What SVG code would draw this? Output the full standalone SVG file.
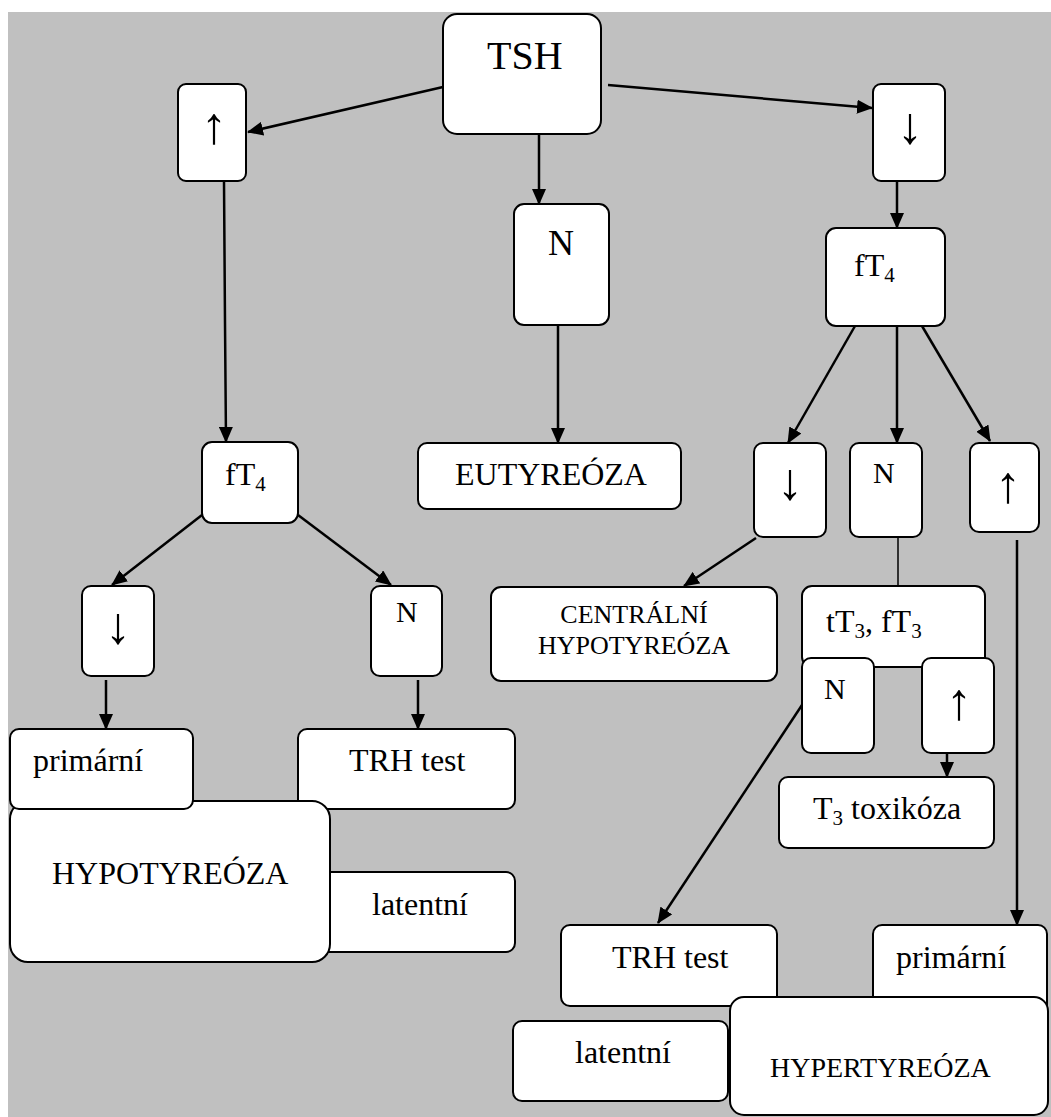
<svg xmlns="http://www.w3.org/2000/svg" width="1051" height="1117" viewBox="0 0 1051 1117">
<style>
.box{fill:#fff;stroke:#000;stroke-width:2}
.t{font-family:'Liberation Serif','DejaVu Serif',serif;font-size:32px;fill:#000}
.c{fill:none;stroke:#000;stroke-width:2.5}
.a{font-family:'Liberation Serif','DejaVu Serif',serif;font-size:52px;fill:#000;text-anchor:middle}
</style>
<defs>
<marker id="ah" markerUnits="userSpaceOnUse" markerWidth="16" markerHeight="14" refX="15" refY="7" orient="auto">
<path d="M0,0 L16,7 L0,14 Z" fill="#000"/>
</marker>
</defs>
<rect x="0" y="0" width="1051" height="1117" fill="#fff"/>
<rect x="8" y="12" width="1043" height="1105" fill="#c0c0c0"/>

<g id="connectors">
<line class="c" x1="443" y1="87" x2="248" y2="132" marker-end="url(#ah)"/>
<line class="c" x1="608" y1="85" x2="872" y2="108" marker-end="url(#ah)"/>
<line class="c" x1="539" y1="134" x2="539" y2="204" marker-end="url(#ah)"/>
<polyline class="c" points="224,181 225,323 226,442" marker-end="url(#ah)"/>
<line class="c" x1="897" y1="181" x2="897" y2="228" marker-end="url(#ah)"/>
<line class="c" x1="558" y1="325" x2="558" y2="443" marker-end="url(#ah)"/>
<line class="c" x1="855" y1="326" x2="788" y2="443" marker-end="url(#ah)"/>
<line class="c" x1="897" y1="326" x2="897" y2="443" marker-end="url(#ah)"/>
<line class="c" x1="922" y1="326" x2="990" y2="441" marker-end="url(#ah)"/>
<line class="c" x1="756" y1="538" x2="684" y2="586" marker-end="url(#ah)"/>
<line class="c" x1="898" y1="537" x2="898" y2="586" style="stroke-width:1.5"/>
<line class="c" x1="1017" y1="540" x2="1017" y2="925" marker-end="url(#ah)"/>
<line class="c" x1="802" y1="705" x2="658" y2="923" marker-end="url(#ah)"/>
<line class="c" x1="947" y1="753" x2="947" y2="777" marker-end="url(#ah)"/>
<line class="c" x1="202" y1="515" x2="112" y2="585" marker-end="url(#ah)"/>
<line class="c" x1="298" y1="515" x2="391" y2="585" marker-end="url(#ah)"/>
<line class="c" x1="106" y1="680" x2="106" y2="729" marker-end="url(#ah)"/>
<line class="c" x1="418" y1="680" x2="418" y2="729" marker-end="url(#ah)"/>
</g>

<g id="tsh"><rect class="box" x="443" y="14" width="158" height="120" rx="14"/><text class="t" x="487" y="69" style="font-size:40px">TSH</text></g>
<g id="up-top"><rect class="box" x="178" y="84" width="68" height="97" rx="8"/><text class="a" x="214" y="143">↑</text></g>
<g id="down-top"><rect class="box" x="873" y="84" width="72" height="97" rx="8"/><text class="a" x="910" y="143">↓</text></g>
<g id="n-mid"><rect class="box" x="514" y="204" width="95" height="121" rx="10"/><text class="t" x="548" y="255" style="font-size:36px">N</text></g>
<g id="ft4-right"><rect class="box" x="826" y="228" width="119" height="98" rx="10"/><text class="t" x="854" y="276">fT<tspan dy="6" style="font-size:21px">4</tspan></text></g>
<g id="ft4-left"><rect class="box" x="202" y="442" width="96" height="81" rx="10"/><text class="t" x="225" y="485">fT<tspan dy="6" style="font-size:21px">4</tspan></text></g>
<g id="eutyreoza"><rect class="box" x="418" y="443" width="263" height="66" rx="9"/><text class="t" x="455" y="485">EUTYREÓZA</text></g>
<g id="down-right"><rect class="box" x="754" y="443" width="72" height="94" rx="9"/><text class="a" x="790" y="499">↓</text></g>
<g id="n-right"><rect class="box" x="850" y="443" width="72" height="94" rx="9"/><text class="t" x="873" y="483" style="font-size:30px">N</text></g>
<g id="up-right"><rect class="box" x="970" y="443" width="69" height="89" rx="9"/><text class="a" x="1008" y="502">↑</text></g>
<g id="centralni"><rect class="box" x="491" y="587" width="286" height="94" rx="10"/><text class="t" x="634" y="623" style="font-size:26px;text-anchor:middle">CENTRÁLNÍ</text><text class="t" x="634" y="654" style="font-size:26px;text-anchor:middle">HYPOTYREÓZA</text></g>
<g id="down-left"><rect class="box" x="82" y="586" width="72" height="90" rx="9"/><text class="a" x="118" y="643">↓</text></g>
<g id="n-left"><rect class="box" x="371" y="586" width="71" height="90" rx="9"/><text class="t" x="396" y="622" style="font-size:30px">N</text></g>
<g id="tt3-ft3"><rect class="box" x="802" y="586" width="183" height="81" rx="10"/><text class="t" x="826" y="632">tT<tspan dy="6" style="font-size:21px">3</tspan><tspan dy="-6">, fT</tspan><tspan dy="6" style="font-size:21px">3</tspan></text></g>
<g id="n-inner"><rect class="box" x="802" y="658" width="72" height="95" rx="9"/><text class="t" x="824" y="699" style="font-size:30px">N</text></g>
<g id="up-inner"><rect class="box" x="922" y="658" width="72" height="95" rx="9"/><text class="a" x="959" y="719">↑</text></g>
<g id="t3-toxikoza"><rect class="box" x="779" y="777" width="215" height="71" rx="9"/><text class="t" x="813" y="819">T<tspan dy="6" style="font-size:21px">3</tspan><tspan dy="-6"> toxikóza</tspan></text></g>

<g id="latentni-left"><rect class="box" x="300" y="872" width="215" height="80" rx="9"/><text class="t" x="372" y="915">latentní</text></g>
<g id="trh-left"><rect class="box" x="298" y="729" width="217" height="80" rx="9"/><text class="t" x="349" y="771">TRH test</text></g>
<g id="hypotyreoza"><rect class="box" x="10" y="801" width="320" height="161" rx="18"/><text class="t" x="52" y="884">HYPOTYREÓZA</text></g>
<g id="primarni-left"><rect class="box" x="10" y="729" width="183" height="80" rx="9"/><text class="t" x="33" y="771">primární</text></g>

<g id="latentni-right"><rect class="box" x="513" y="1021" width="215" height="80" rx="9"/><text class="t" x="575" y="1063">latentní</text></g>
<g id="trh-right"><rect class="box" x="561" y="925" width="216" height="81" rx="9"/><text class="t" x="612" y="968">TRH test</text></g>
<g id="primarni-right"><rect class="box" x="873" y="925" width="174" height="90" rx="9"/><text class="t" x="896" y="968">primární</text></g>
<g id="hypertyreoza"><rect class="box" x="730" y="997" width="318" height="118" rx="14"/><text class="t" x="770" y="1077" style="font-size:28px">HYPERTYREÓZA</text></g>
</svg>
